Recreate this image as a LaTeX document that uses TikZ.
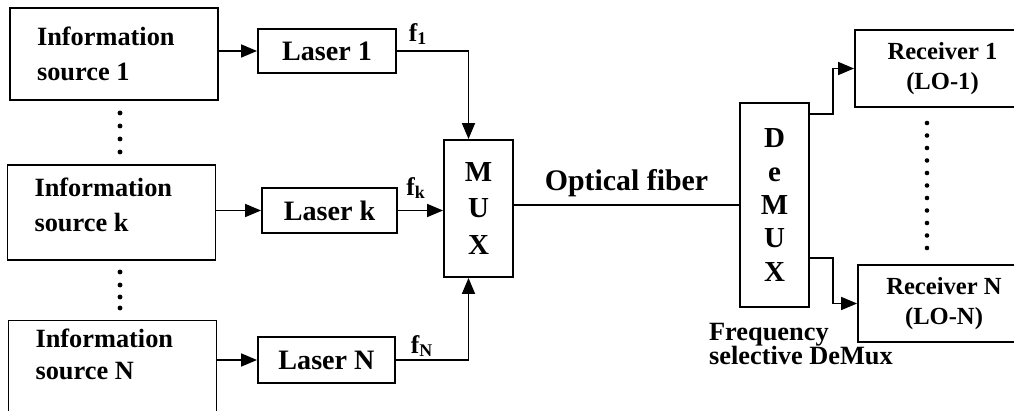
\documentclass[tikz,border=0pt]{standalone}
\usepackage{fontspec}
\setmainfont{Liberation Serif}
\usetikzlibrary{arrows.meta, positioning}

\begin{document}
\begin{tikzpicture}[
    x=0.02cm, y=-0.02cm,
    box/.style={rectangle, draw, line width=1.1pt, align=center, inner sep=0pt,
                font=\fontsize{16}{20}\selectfont\bfseries},
    srcbox/.style={box, align=flush left, inner xsep=0.54cm, text width=3.08cm,
                   font=\fontsize{15}{20}\selectfont\bfseries},
    lbl/.style={font=\fontsize{14.5}{20}\selectfont\bfseries, inner sep=1pt},
    arr/.style={-{Triangle[length=0.32cm, width=0.26cm]}, line width=1pt},
    wire/.style={line width=1pt}
]
\useasboundingbox (0,0) rectangle (1014,411);
\node[srcbox, minimum height=1.84cm] (src1) at (114,54)    {Information\\source 1};
\node[srcbox, minimum height=1.90cm] (srck) at (111.5,212.5) {Information\\source k\rule[-0.3cm]{0pt}{0pt}};
\node[srcbox, minimum height=1.90cm] (srcN) at (112.5,368)  {Information\\[-2pt]source N\rule[-0.56cm]{0pt}{0pt}};
\node[box, minimum width=2.76cm, minimum height=0.88cm] (las1) at (327,51)     {Laser 1};
\node[box, minimum width=2.70cm, minimum height=0.90cm] (lask) at (329.5,210.5) {Laser k};
\node[box, minimum width=2.74cm, minimum height=0.92cm] (lasN) at (326.5,360)  {Laser N};
\node[box, minimum width=1.38cm, minimum height=2.74cm,
      font=\fontsize{16.5}{20.5}\selectfont\bfseries] (mux) at (478.5,208.5) {M\\U\\X};
\node[box, minimum width=1.38cm, minimum height=4.08cm,
      font=\fontsize{16.5}{19}\selectfont\bfseries] (demux) at (774.5,205) {D\\e\\M\\U\\X};
\node[box, minimum width=3.50cm, minimum height=1.54cm,
      font=\fontsize{14}{17.5}\selectfont\bfseries] (rx1) at (942.5,68.5) {Receiver 1\\(LO-1)};
\node[box, minimum width=3.44cm, minimum height=1.54cm,
      font=\fontsize{14}{17.5}\selectfont\bfseries] (rxN) at (944,303.5) {Receiver N\\(LO-N)};

\draw[arr] (src1.east |- las1.west) -- (las1.west);
\draw[arr] (srck.east |- lask.west) -- (lask.west);
\draw[arr] (srcN.east |- lasN.west) -- (lasN.west);

\draw[arr] (las1.east) -| ([xshift=-0.2cm]mux.north);
\draw[arr] (lask.east) -- (lask.east -| mux.west);
\draw[arr] (lasN.east) -| ([xshift=-0.2cm]mux.south);
\node[lbl] (f1) at (418,34)  {f\textsubscript{1}};
\node[lbl] (fk) at (416,188) {f\textsubscript{k}};
\node[lbl] (fN) at (422,346) {f\textsubscript{N}};

\draw[wire] (mux.east |- demux.west) -- node[lbl, above=0.12cm, font=\fontsize{17}{18}\selectfont\bfseries] (fiber) {Optical fiber} (demux.west);

\draw[arr] ([yshift=-0.24cm]demux.north east) -- ++(23,0) |- (rx1.west);
\draw[arr] ([yshift=1.0cm]demux.south east) -- ++(23,0) |- (rxN.west);
\node[lbl, anchor=north west, align=left, font=\fontsize{15}{14}\selectfont\bfseries]
    (freq) at (707,321) {Frequency\\selective DeMux};

\foreach \y in {113,126,139,152,272,285,297,308}
    \fill (120,\y) circle (1.4pt);
\foreach \i in {0,...,10}
    \fill (927,123+12.5*\i) circle (1.3pt);
\end{tikzpicture}
\end{document}
